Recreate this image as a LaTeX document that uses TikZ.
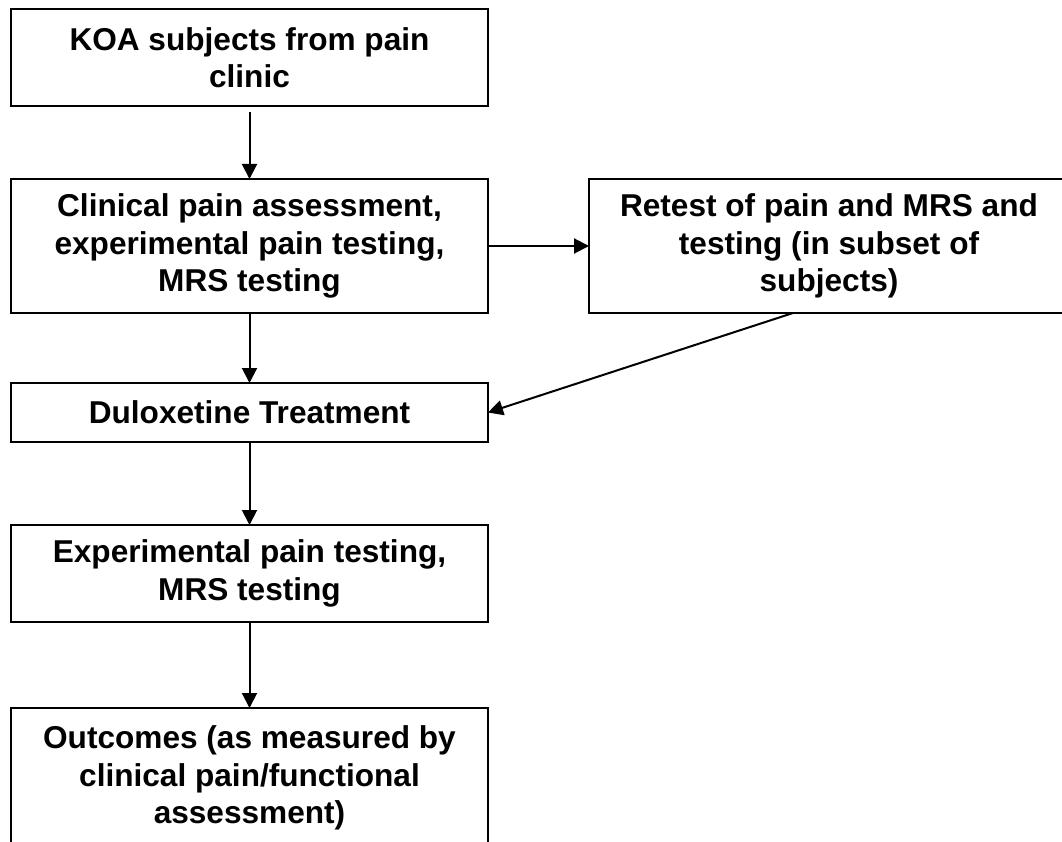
\documentclass[tikz,border=0pt]{standalone}
\usepackage{fontspec}
\setmainfont{Liberation Sans}
\usetikzlibrary{arrows.meta, positioning}
\tikzstyle{etapa} = [draw=black, line width=2.2pt, rectangle, inner sep=0pt, outer sep=0pt, minimum width=477pt, align=center, font=\fontsize{31.6}{37.5}\selectfont\bfseries]
\tikzstyle{flecha} = [line width=2pt, -{Triangle[length=15pt,width=15pt]}]

\begin{document}
\begin{tikzpicture}[x=1pt, y=-1pt]
	\clip (0,0) rectangle (1062,842);
	\fill[white] (0,0) rectangle (1062,842);
	\node [etapa, minimum height=97pt] (koa) at (249.5,57.5) {KOA subjects from pain\\clinic};
	\node [etapa, minimum height=134pt] (clinical) at (249.5,246) {Clinical pain assessment,\\experimental pain testing,\\MRS testing};
	\node [etapa, minimum height=134pt, minimum width=480pt] (retest) at (829,246) {Retest of pain and MRS and\\testing (in subset of\\subjects)};
	\node [etapa, minimum height=59pt] (dulox) at (249.5,412.5) {Duloxetine Treatment};
	\node [etapa, minimum height=97pt] (experimental) at (249.5,573.5) {Experimental pain testing,\\MRS testing};
	\node [etapa, minimum height=140pt] (outcomes) at (249.5,778) {Outcomes (as measured by\\clinical pain/functional\\assessment)};
	\draw [flecha] ([yshift=-6pt]koa.south) -- (clinical.north);
	\draw [flecha] (clinical.east) -- (retest.west);
	\draw [flecha] (clinical.south) -- (dulox.north);
	\draw [flecha] ([xshift=-36pt]retest.south) -- (dulox.east);
	\draw [flecha] (dulox.south) -- (experimental.north);
	\draw [flecha] (experimental.south) -- (outcomes.north);
\end{tikzpicture}
\end{document}
